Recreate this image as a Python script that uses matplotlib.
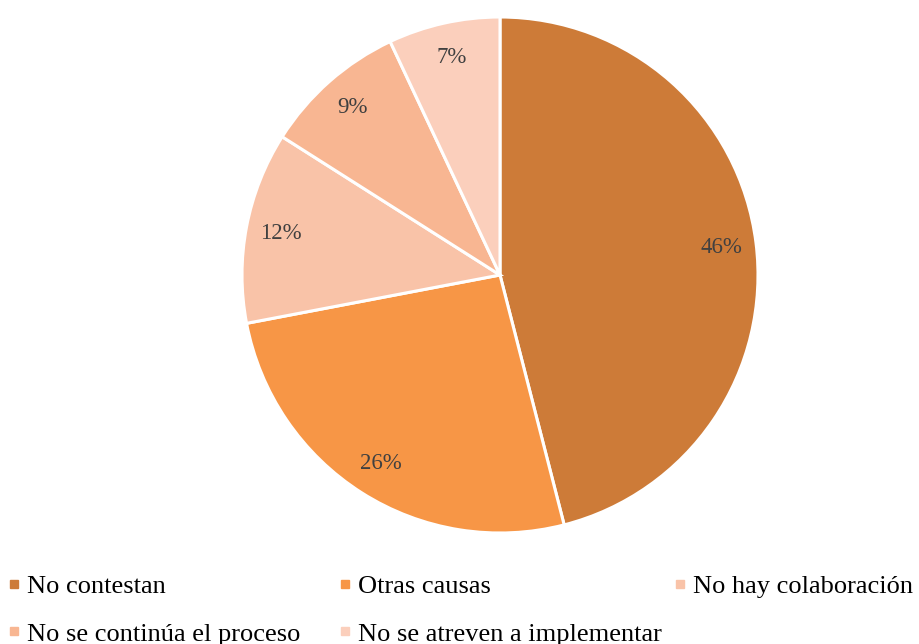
import matplotlib
matplotlib.use("Agg")
import matplotlib.pyplot as plt
from matplotlib.lines import Line2D

categories = ["No contestan", "Otras causas", "No hay colaboración",
              "No se continúa el proceso", "No se atreven a implementar"]
values = [46, 26, 12, 9, 7]
colors = ["#CD7B38", "#F79646", "#F9C3A8", "#F8B692", "#FBCFBC"]

plt.rcParams['font.family'] = ['Liberation Serif', 'DejaVu Serif']

fig = plt.figure(figsize=(9.2, 6.44), dpi=100)
ax = fig.add_axes([242/920, (644-533)/644, 516/920, 516/644])
wedges, texts, autotexts = ax.pie(
    values, colors=colors, startangle=90, counterclock=False,
    autopct=lambda p: f"{p:.0f}%", pctdistance=0.865,
    wedgeprops=dict(edgecolor="white", linewidth=2.2),
    textprops=dict(color="#404040", fontsize=16.5))
ax.set_aspect("equal")
ax.set_xlim(-1, 1)
ax.set_ylim(-1, 1)

def handle(c):
    return Line2D([], [], linestyle="none", marker="s", markersize=6,
                  markerfacecolor=c, markeredgecolor=c)

cols = [[0, 3], [1, 4], [2]]
xs = [7, 338, 673]
for col, x in zip(cols, xs):
    fig.legend([handle(colors[i]) for i in col], [categories[i] for i in col],
               loc="upper left", bbox_to_anchor=(x/920, 1 - 575/644),
               frameon=False, fontsize=19, handlelength=0.55,
               handletextpad=0.22, labelspacing=0.9, borderpad=0,
               borderaxespad=0)

fig.savefig("out.png", dpi=100)
